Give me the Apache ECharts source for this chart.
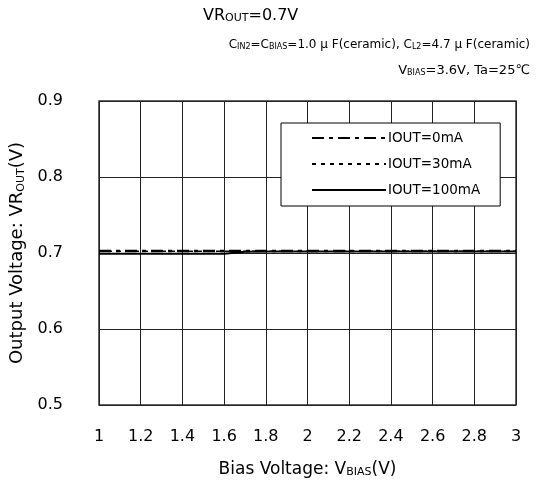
<!DOCTYPE html>
<html>
<head>
<meta charset="utf-8">
<script src="https://cdn.jsdelivr.net/npm/echarts@6/dist/echarts.min.js"></script>
<style>
  html, body { margin: 0; padding: 0; background: #fff; }
  #chart { width: 540px; height: 493px; }
</style>
</head>
<body>
<div id="chart"></div>
<script>
// bias voltage points (V)
var vbias = [1, 1.2, 1.4, 1.6, 1.7, 1.8, 2, 2.2, 2.4, 2.6, 2.8, 3];
var iout0 = [0.7025, 0.7025, 0.7025, 0.7025, 0.7025, 0.7025, 0.7025, 0.7025, 0.7025, 0.7025, 0.7025, 0.7025];
var iout30 = [0.7022, 0.7022, 0.7022, 0.7022, 0.7022, 0.7022, 0.7022, 0.7022, 0.7022, 0.7022, 0.7022, 0.7022];
var iout100 = [0.699, 0.699, 0.699, 0.699, 0.7018, 0.702, 0.702, 0.702, 0.702, 0.702, 0.702, 0.702];
var seriesNames = ['IOUT=0mA', 'IOUT=30mA', 'IOUT=100mA'];

var FONT = 'DejaVu Sans, Liberation Sans, sans-serif';

function pairs(ys) {
  return vbias.map(function (x, i) { return [x, ys[i]]; });
}

var sub = { fontSize: 11, verticalAlign: 'bottom', fontFamily: FONT, color: '#000' };
var subSmall = { fontSize: 8, verticalAlign: 'bottom', fontFamily: FONT };

var chart = echarts.init(document.getElementById('chart'));
chart.setOption({
  animation: false,
  backgroundColor: '#fff',
  textStyle: { fontFamily: FONT, color: '#000' },
  graphic: [
    {
      type: 'text', left: 203, top: 8,
      style: {
        text: 'VR{s|OUT}=0.7V',
        font: '16px ' + FONT, fill: '#000',
        rich: { s: { fontSize: 11, verticalAlign: 'bottom', fontFamily: FONT } }
      }
    },
    {
      type: 'text', right: 10, top: 39,
      style: {
        text: 'C{s|IN2}=C{s|BIAS}=1.0 μ F(ceramic), C{s|L2}=4.7 μ F(ceramic)',
        font: '12px ' + FONT, fill: '#000',
        rich: { s: subSmall }
      }
    },
    {
      type: 'text', right: 10, top: 64,
      style: {
        text: 'V{s|BIAS}=3.6V, Ta=25℃',
        font: '13px ' + FONT, fill: '#000',
        rich: { s: subSmall }
      }
    }
  ],
  grid: { left: 99, right: 24, top: 101, bottom: 88, show: true, borderColor: '#333', borderWidth: 1.5 },
  legend: {
    data: seriesNames,
    orient: 'vertical',
    left: 281, top: 123,
    backgroundColor: '#fff',
    borderColor: '#000',
    borderWidth: 1,
    padding: [8, 20, 9, 30],
    itemWidth: 74, itemHeight: 12,
    itemGap: 12,
    itemStyle: { opacity: 0 },
    textStyle: { fontSize: 13.5, fontFamily: FONT, color: '#000', padding: [0, 0, 0, -3] }
  },
  xAxis: {
    type: 'value', min: 1, max: 3, interval: 0.2,
    axisLine: { show: false },
    axisTick: { show: false },
    splitLine: { show: true, lineStyle: { color: '#222', width: 1 } },
    axisLabel: { fontSize: 16, color: '#000', margin: 24, fontFamily: FONT,
      formatter: function (v) { return String(Math.round(v * 10) / 10); } },
    name: 'Bias Voltage: V{s|BIAS}(V)',
    nameLocation: 'middle', nameGap: 56,
    nameTextStyle: { fontSize: 17, color: '#000', fontFamily: FONT, rich: { s: sub } }
  },
  yAxis: {
    type: 'value', min: 0.5, max: 0.9, interval: 0.1,
    axisLine: { show: false },
    axisTick: { show: false },
    splitLine: { show: true, lineStyle: { color: '#222', width: 1 } },
    axisLabel: { fontSize: 16, color: '#000', margin: 36, fontFamily: FONT,
      formatter: function (v) { return v.toFixed(1); } },
    name: 'Output Voltage: VR{s|OUT}(V)',
    nameLocation: 'middle', nameGap: 68,
    nameTextStyle: { fontSize: 18, color: '#000', fontFamily: FONT, rich: { s: sub } }
  },
  series: [
    {
      name: seriesNames[0], type: 'line', symbol: 'none', data: pairs(iout0),
      lineStyle: { color: '#000', width: 2.5, type: [12, 5, 4, 5] },
      itemStyle: { color: '#000' }, z: 3
    },
    {
      name: seriesNames[1], type: 'line', symbol: 'none', data: pairs(iout30),
      lineStyle: { color: '#000', width: 1.5, type: [4, 5] },
      itemStyle: { color: '#000' }, z: 4
    },
    {
      name: seriesNames[2], type: 'line', symbol: 'none', data: pairs(iout100),
      lineStyle: { color: '#000', width: 2 },
      itemStyle: { color: '#000' }, z: 5
    }
  ]
});
</script>
</body>
</html>
